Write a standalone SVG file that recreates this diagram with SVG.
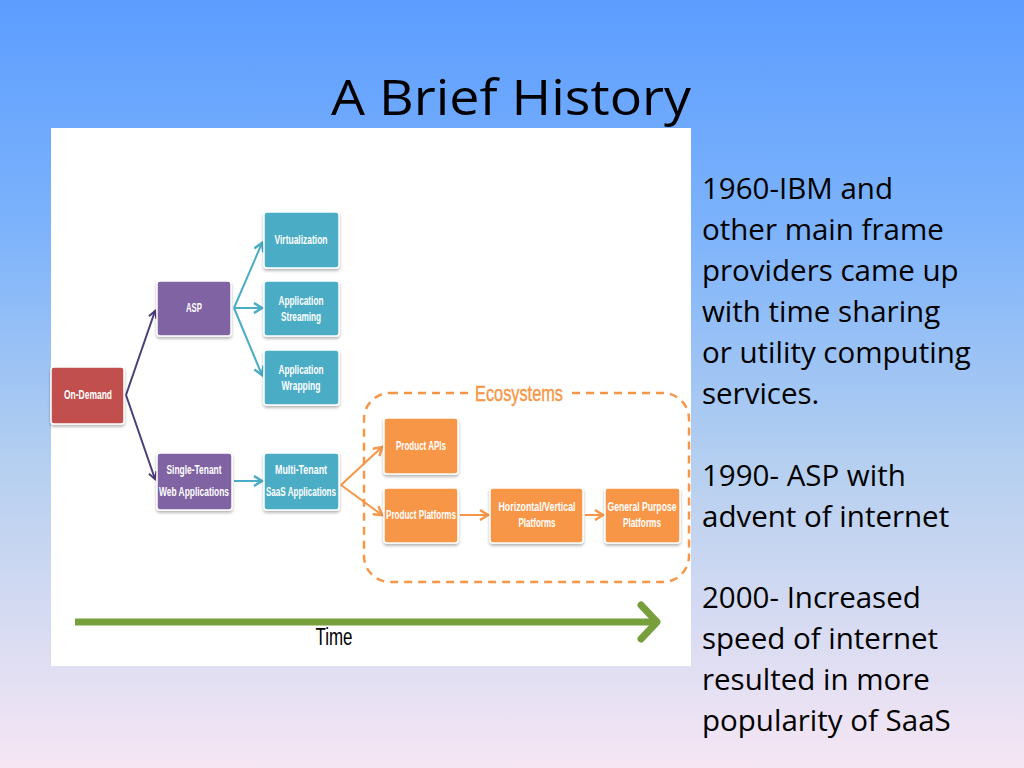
<svg xmlns="http://www.w3.org/2000/svg" width="1024" height="768" viewBox="0 0 1024 768">
<defs>
<linearGradient id="bg" x1="0" y1="0" x2="0" y2="1">
<stop offset="0" stop-color="#5c9dff"/>
<stop offset="0.3" stop-color="#7db3fb"/>
<stop offset="0.6" stop-color="#b4cff0"/>
<stop offset="1" stop-color="#f6e6f4"/>
</linearGradient>
<filter id="sh" x="-20%" y="-20%" width="140%" height="150%">
<feDropShadow dx="0" dy="2" stdDeviation="1.5" flood-color="#000" flood-opacity="0.3"/>
</filter>
<marker id="ap" markerWidth="10" markerHeight="10" refX="8" refY="5" orient="auto" markerUnits="userSpaceOnUse">
<path d="M1,1 L8,5 L1,9" fill="none" stroke="#4a3d78" stroke-width="2"/>
</marker>
<marker id="at" markerWidth="12" markerHeight="12" refX="9" refY="6" orient="auto" markerUnits="userSpaceOnUse">
<path d="M1,1 L9,6 L1,11" fill="none" stroke="#4bacc6" stroke-width="2.5"/>
</marker>
<marker id="ao" markerWidth="12" markerHeight="12" refX="9" refY="6" orient="auto" markerUnits="userSpaceOnUse">
<path d="M1,1 L9,6 L1,11" fill="none" stroke="#f79646" stroke-width="2.5"/>
</marker>
</defs>
<style>
.n{stroke:#fff;stroke-width:1.5;filter:url(#sh)}
.red{fill:#c0504d}.pur{fill:#8064a2}.teal{fill:#4bacc6}.org{fill:#f79646}
.t{font-family:"Liberation Sans",Arial,sans-serif;font-size:12.5px;font-weight:bold;fill:#fff;text-anchor:middle}
.side{font-family:"Open Sans","Noto Sans",sans-serif;font-size:29.5px;fill:#000}
.c{fill:none;stroke-width:2}
</style>
<rect width="1024" height="768" fill="url(#bg)"/>
<text x="511" y="115" font-family="Open Sans, Noto Sans, sans-serif" font-size="50" text-anchor="middle" textLength="360" lengthAdjust="spacingAndGlyphs" fill="#000">A Brief History</text>
<rect x="51" y="128" width="640" height="538" fill="#fff"/>

<g id="ecosystems">
<rect x="364" y="393" width="325" height="189" rx="26" fill="none" stroke="#f79646" stroke-width="2.5" stroke-dasharray="8,6"/>
<rect x="468" y="380" width="102" height="26" fill="#fff"/>
<text x="519" y="401" font-family="Liberation Sans, Arial, sans-serif" font-size="22" fill="#f79646" stroke="#f79646" stroke-width="0.4" text-anchor="middle" textLength="88" lengthAdjust="spacingAndGlyphs">Ecosystems</text>
</g>

<g id="connectors">
<line class="c" x1="126" y1="395" x2="155" y2="311" stroke="#4a3d78" marker-end="url(#ap)"/>
<line class="c" x1="126" y1="395" x2="155" y2="479" stroke="#4a3d78" marker-end="url(#ap)"/>
<line class="c" x1="234" y1="308" x2="262" y2="243" stroke="#4bacc6" marker-end="url(#at)"/>
<line class="c" x1="234" y1="308" x2="262" y2="308" stroke="#4bacc6" marker-end="url(#at)"/>
<line class="c" x1="234" y1="308" x2="262" y2="375" stroke="#4bacc6" marker-end="url(#at)"/>
<line class="c" x1="234" y1="481" x2="262" y2="481" stroke="#4bacc6" stroke-width="3" marker-end="url(#at)"/>
<line class="c" x1="341" y1="485" x2="382" y2="447" stroke="#f79646" marker-end="url(#ao)"/>
<line class="c" x1="341" y1="485" x2="382" y2="515" stroke="#f79646" marker-end="url(#ao)"/>
<line class="c" x1="460" y1="515" x2="488" y2="515" stroke="#f79646" stroke-width="2.5" marker-end="url(#ao)"/>
<line class="c" x1="585" y1="515" x2="603" y2="515" stroke="#f79646" stroke-width="2.5" marker-end="url(#ao)"/>
</g>

<g id="on-demand"><rect class="n red" x="51" y="367" width="73" height="57" rx="3"/><text class="t" x="88" y="399" textLength="48" lengthAdjust="spacingAndGlyphs">On-Demand</text></g>
<g id="asp"><rect class="n pur" x="157" y="281" width="74" height="55" rx="3"/><text class="t" x="194" y="312" textLength="16" lengthAdjust="spacingAndGlyphs">ASP</text></g>
<g id="virtualization"><rect class="n teal" x="264" y="212" width="75" height="56" rx="3"/><text class="t" x="301" y="244" textLength="53" lengthAdjust="spacingAndGlyphs">Virtualization</text></g>
<g id="app-streaming"><rect class="n teal" x="264" y="281" width="75" height="55" rx="3"/><text class="t" x="301" y="305" textLength="45" lengthAdjust="spacingAndGlyphs">Application</text><text class="t" x="301" y="321" textLength="40" lengthAdjust="spacingAndGlyphs">Streaming</text></g>
<g id="app-wrapping"><rect class="n teal" x="264" y="350" width="75" height="55" rx="3"/><text class="t" x="301" y="374" textLength="45" lengthAdjust="spacingAndGlyphs">Application</text><text class="t" x="301" y="390" textLength="39" lengthAdjust="spacingAndGlyphs">Wrapping</text></g>
<g id="single-tenant"><rect class="n pur" x="157" y="453" width="75" height="57" rx="3"/><text class="t" x="194" y="474" textLength="55" lengthAdjust="spacingAndGlyphs">Single-Tenant</text><text class="t" x="194" y="496" textLength="70" lengthAdjust="spacingAndGlyphs">Web Applications</text></g>
<g id="multi-tenant"><rect class="n teal" x="264" y="453" width="75" height="57" rx="3"/><text class="t" x="301" y="474" textLength="52" lengthAdjust="spacingAndGlyphs">Multi-Tenant</text><text class="t" x="301" y="496" textLength="70" lengthAdjust="spacingAndGlyphs">SaaS Applications</text></g>
<g id="product-apis"><rect class="n org" x="384" y="418" width="74" height="56" rx="3"/><text class="t" x="421" y="450" textLength="50" lengthAdjust="spacingAndGlyphs">Product APIs</text></g>
<g id="product-platforms"><rect class="n org" x="384" y="488" width="74" height="55" rx="3"/><text class="t" x="421" y="519" textLength="70" lengthAdjust="spacingAndGlyphs">Product Platforms</text></g>
<g id="hv-platforms"><rect class="n org" x="490" y="488" width="93" height="55" rx="3"/><text class="t" x="537" y="511" textLength="77" lengthAdjust="spacingAndGlyphs">Horizontal/Vertical</text><text class="t" x="537" y="527" textLength="37" lengthAdjust="spacingAndGlyphs">Platforms</text></g>
<g id="gp-platforms"><rect class="n org" x="605" y="488" width="75" height="55" rx="3"/><text class="t" x="642" y="511" textLength="69" lengthAdjust="spacingAndGlyphs">General Purpose</text><text class="t" x="642" y="527" textLength="38" lengthAdjust="spacingAndGlyphs">Platforms</text></g>

<g id="time">
<line x1="75" y1="622" x2="655" y2="622" stroke="#77a03c" stroke-width="7"/>
<path d="M641,605 L657,622 L641,639" fill="none" stroke="#77a03c" stroke-width="7" stroke-linecap="round" stroke-linejoin="round"/>
<text x="334" y="645" font-family="Liberation Sans, Arial, sans-serif" font-size="23" fill="#000" text-anchor="middle" textLength="37" lengthAdjust="spacingAndGlyphs">Time</text>
</g>

<g id="notes">
<text class="side" x="702" y="199">1960-IBM and</text>
<text class="side" x="702" y="240">other main frame</text>
<text class="side" x="702" y="281">providers came up</text>
<text class="side" x="702" y="322">with time sharing</text>
<text class="side" x="702" y="363">or utility computing</text>
<text class="side" x="702" y="404">services.</text>
<text class="side" x="702" y="486">1990- ASP with</text>
<text class="side" x="702" y="527">advent of internet</text>
<text class="side" x="702" y="608">2000- Increased</text>
<text class="side" x="702" y="649">speed of internet</text>
<text class="side" x="702" y="690">resulted in more</text>
<text class="side" x="702" y="731">popularity of SaaS</text>
</g>
</svg>
